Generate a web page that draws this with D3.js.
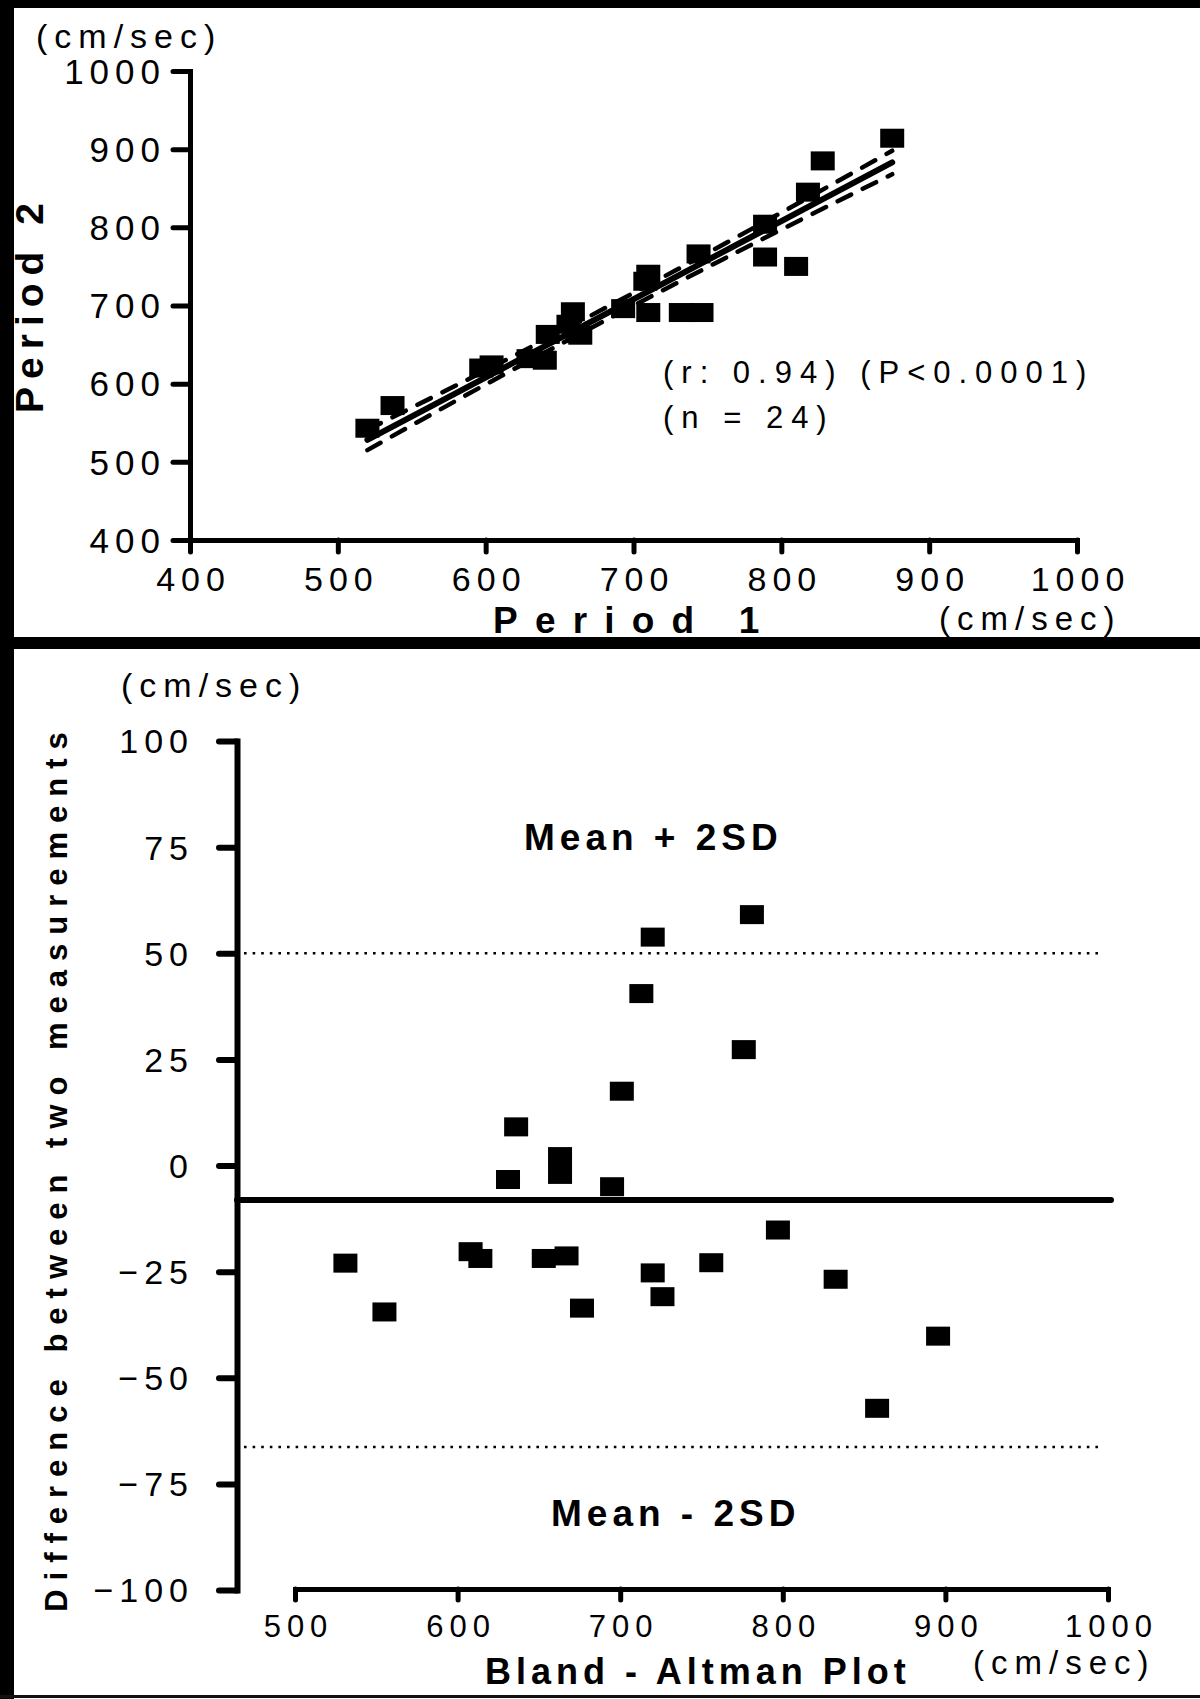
<!DOCTYPE html>
<html><head><meta charset="utf-8">
<script src="https://cdn.jsdelivr.net/npm/d3@7"></script>
<style>
html,body{margin:0;padding:0;background:#fff;}
svg{display:block;}
text{font-family:"Liberation Sans",Arial,Helvetica,sans-serif;fill:#000;}
</style></head><body>
<svg id="c" width="1200" height="1699"></svg>
<script>
// ---------- data ----------
const period1 = [520, 537, 597, 604, 629, 640, 642, 656, 659, 662, 664, 693, 708, 710, 710, 732, 746, 744, 789, 789, 810, 818, 828, 875];
const period2 = [543, 572, 620, 624, 632, 630, 663, 676, 692, 664, 662, 696, 731, 740, 691, 691, 691, 766, 804, 762, 750, 845, 885, 914];
const regX = [520, 875];
const regY = [528, 883];
const ciX = [520, 600, 690, 780, 875];
const ciUpper = [541, 617, 706, 798, 898];
const ciLower = [515, 599, 690, 778, 868];
const topTicks = [400, 500, 600, 700, 800, 900, 1000];
const statsLines = ["(r: 0.94) (P<0.0001)", "(n = 24)"];

const baMean = [531, 555, 608, 614, 631, 636, 653, 663, 663, 667, 676.5, 695, 701, 713, 720, 720, 726, 756, 776, 781, 797, 832.5, 858, 895.5];
const baDiff = [-23, -34.5, -20.3, -21.9, -3.3, 9.1, -21.9, 2.1, -2.1, -21.3, -33.6, -5, 17.5, 40.5, 53.8, -25.3, -30.9, -22.9, 27.3, 59.1, -15.2, -26.8, -57.2, -40.2];
const baMeanDiff = -8.1;
const baUpperLimit = 50;
const baLowerLimit = -66.3;
const baYTicks = [-100, -75, -50, -25, 0, 25, 50, 75, 100];
const baXTicks = [500, 600, 700, 800, 900, 1000];

// ---------- drawing ----------
const svg = d3.select("#c");
svg.append("rect").attr("width",1200).attr("height",1699).attr("fill","#fff");

// frame
svg.append("rect").attr("x",0).attr("y",0).attr("width",1200).attr("height",8).attr("fill","#000");
svg.append("rect").attr("x",0).attr("y",0).attr("width",14).attr("height",1699).attr("fill","#000");
svg.append("rect").attr("x",0).attr("y",637).attr("width",1200).attr("height",12).attr("fill","#000");
svg.append("rect").attr("x",0).attr("y",1695).attr("width",1200).attr("height",3).attr("fill","#111");

function styleAxis(g, sw){
  g.select(".domain").attr("stroke","#000").attr("stroke-width",sw).attr("stroke-linecap","square");
  g.selectAll(".tick line").attr("stroke","#000").attr("stroke-width",sw).attr("stroke-linecap","round");
  g.selectAll(".tick text").attr("fill","#000").attr("font-family","'Liberation Sans',Arial,sans-serif");
}

// ===== Top panel =====
const xT = d3.scaleLinear().domain([400,1000]).range([190,1077]);
const yT = d3.scaleLinear().domain([400,1000]).range([540,71]);

const gyT = svg.append("g").attr("transform","translate(190,0)")
  .call(d3.axisLeft(yT).tickValues(topTicks).tickSize(17).tickSizeOuter(0).tickFormat(d3.format("d")));
styleAxis(gyT,5);
gyT.selectAll(".tick text").attr("font-size",35).attr("letter-spacing",6).attr("x",-24).attr("dy","0.35em");

const gxT = svg.append("g").attr("transform","translate(0,540)")
  .call(d3.axisBottom(xT).tickValues(topTicks).tickSize(12).tickSizeOuter(0).tickFormat(d3.format("d")));
styleAxis(gxT,5);
gxT.selectAll(".tick text").attr("font-size",34).attr("letter-spacing",6).attr("y",51).attr("dy",0).attr("dx",3);

// CI bands
const ciLine = d3.line().x(d=>xT(d[0])).y(d=>yT(d[1])).curve(d3.curveMonotoneX);
[ciUpper, ciLower].forEach(arr=>{
  svg.append("path").datum(ciX.map((x,i)=>[x,arr[i]]))
    .attr("d",ciLine).attr("fill","none").attr("stroke","#000")
    .attr("stroke-width",4.5).attr("stroke-dasharray","15 13").attr("stroke-linecap","round");
});
// regression line
svg.append("path").datum(regX.map((x,i)=>[x,regY[i]]))
  .attr("d",d3.line().x(d=>xT(d[0])).y(d=>yT(d[1])))
  .attr("fill","none").attr("stroke","#000").attr("stroke-width",6).attr("stroke-linecap","round");

// points
svg.append("g").selectAll("rect").data(period1.map((p,i)=>[p,period2[i]])).join("rect")
  .attr("x",d=>xT(d[0])-12).attr("y",d=>yT(d[1])-9.5).attr("width",24).attr("height",19).attr("fill","#000");

// texts
svg.append("text").attr("x",36).attr("y",48).attr("font-size",34).attr("letter-spacing",7).text("(cm/sec)");
svg.append("text").attr("x",939).attr("y",630).attr("font-size",33).attr("letter-spacing",7).text("(cm/sec)");
statsLines.forEach((s,i)=>{
  svg.append("text").attr("x",663).attr("y",[383,428][i]).attr("font-size",31).attr("letter-spacing",8).text(s);
});
svg.append("text").attr("x",493).attr("y",633).attr("font-size",37).attr("font-weight","bold").attr("letter-spacing",17.2).text("Period 1");
svg.append("text").attr("transform","translate(43,308) rotate(-90)").attr("text-anchor","middle").attr("dx",4)
  .attr("font-size",39).attr("font-weight","bold").attr("letter-spacing",8).text("Period 2");

// ===== Bottom panel =====
const xB = d3.scaleLinear().domain([500,1000]).range([295,1108]);
const yB = d3.scaleLinear().domain([-100,100]).range([1590,741]);

const gyB = svg.append("g").attr("transform","translate(237,0)")
  .call(d3.axisLeft(yB).tickValues(baYTicks).tickSize(18).tickSizeOuter(0).tickFormat(d3.format("d")));
styleAxis(gyB,6);
gyB.selectAll(".tick text").attr("font-size",34).attr("letter-spacing",6).attr("x",-43).attr("dy","0.35em");

const gxB = svg.append("g").attr("transform","translate(0,1589)")
  .call(d3.axisBottom(xB).tickValues(baXTicks).tickSize(11).tickSizeOuter(0).tickFormat(d3.format("d")));
styleAxis(gxB,5);
gxB.selectAll(".tick text").attr("font-size",31).attr("letter-spacing",6).attr("y",48).attr("dy",0).attr("dx",3);

// limits of agreement (dotted)
[baUpperLimit, baLowerLimit].forEach(v=>{
  svg.append("line").attr("x1",244).attr("x2",xB(1000)-6).attr("y1",yB(v)).attr("y2",yB(v))
    .attr("stroke","#000").attr("stroke-width",2.6).attr("stroke-dasharray","2.6 6");
});
// mean difference
svg.append("line").attr("x1",237).attr("x2",xB(1000)+3).attr("y1",yB(baMeanDiff)).attr("y2",yB(baMeanDiff))
  .attr("stroke","#000").attr("stroke-width",6).attr("stroke-linecap","round");

// points
svg.append("g").selectAll("rect").data(baMean.map((m,i)=>[m,baDiff[i]])).join("rect")
  .attr("x",d=>xB(d[0])-12).attr("y",d=>yB(d[1])-9.5).attr("width",24).attr("height",19).attr("fill","#000");

// texts
svg.append("text").attr("x",121).attr("y",697).attr("font-size",34).attr("letter-spacing",7).text("(cm/sec)");
svg.append("text").attr("x",973).attr("y",1674).attr("font-size",33).attr("letter-spacing",7).text("(cm/sec)");
svg.append("text").attr("x",524).attr("y",850).attr("font-size",37).attr("font-weight","bold").attr("letter-spacing",5).text("Mean + 2SD");
svg.append("text").attr("x",551).attr("y",1526).attr("font-size",37).attr("font-weight","bold").attr("letter-spacing",5).text("Mean - 2SD");
svg.append("text").attr("x",485).attr("y",1684).attr("font-size",36).attr("font-weight","bold").attr("letter-spacing",5).text("Bland - Altman Plot");
svg.append("text").attr("transform","translate(67,1172) rotate(-90)").attr("text-anchor","middle").attr("dx",4.5)
  .attr("font-size",31).attr("font-weight","bold").attr("letter-spacing",9).text("Difference between two measurements");
</script>
</body></html>
